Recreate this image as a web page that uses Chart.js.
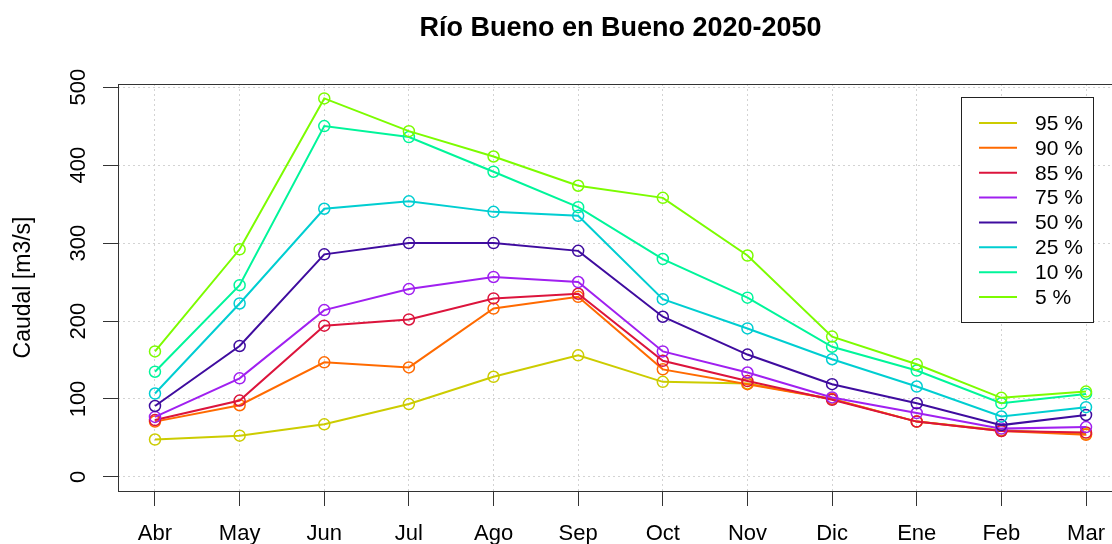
<!DOCTYPE html>
<html>
<head>
<meta charset="utf-8">
<script src="https://cdn.jsdelivr.net/npm/chart.js@4.4.1/dist/chart.umd.min.js"></script>
<style>
  html, body { margin: 0; padding: 0; background: #fff; overflow: hidden; }
  #wrap { width: 1130px; height: 544px; }
</style>
</head>
<body>
<div id="wrap"><canvas id="c" width="1130" height="544"></canvas></div>
<script>
const months = ["Abr","May","Jun","Jul","Ago","Sep","Oct","Nov","Dic","Ene","Feb","Mar"];
const seriesLabels = ["95 %","90 %","85 %","75 %","50 %","25 %","10 %","5 %"];
const seriesColors = ["#CCCC00","#FF6A00","#DC143C","#A020F0","#3F0C9F","#00CED1","#00F59A","#7CFC00"];
const yTicks = [0,100,200,300,400,500];

const q95 = [48, 53, 67.5, 93.5, 128.5, 156, 122, 120, 100, 71, 60, 55];
const q90 = [71, 92, 147, 140.5, 216, 231, 138, 119, 100, 71, 59, 54];
const q85 = [73, 98, 194, 202, 229, 235, 149, 123, 99, 71, 59, 57];
const q75 = [77, 126.5, 214, 241, 256.5, 250, 161, 134, 102, 82, 62, 64];
const q50 = [91, 168, 285.5, 300, 300, 290, 205.5, 157, 119, 94.5, 66.5, 79.5];
const q25 = [107, 222.5, 344, 353.5, 340, 335, 228, 190.5, 151, 116, 77.5, 89.5];
const q10 = [135, 246, 450, 436, 391.5, 346, 279.5, 230, 167, 136.5, 94.5, 106.5];
const q5  = [161, 292, 485.5, 443.5, 411, 373.5, 358, 284, 180, 144.5, 101.5, 109.5];

const seriesValues = [q95, q90, q85, q75, q50, q25, q10, q5];

const datasets = seriesValues.map((vals, i) => ({
  label: seriesLabels[i],
  data: vals.map((v, k) => ({ x: k + 1, y: v })),
  borderColor: seriesColors[i],
  backgroundColor: seriesColors[i],
  pointBorderColor: seriesColors[i],
  pointBackgroundColor: 'rgba(0,0,0,0)',
  pointRadius: 5.5,
  pointBorderWidth: 1.5,
  pointHoverRadius: 5.5,
  borderWidth: 2,
  tension: 0,
  fill: false,
  order: seriesValues.length - i
}));

const boxPlugin = {
  id: 'boxPlugin',
  afterDraw(chart) {
    const ctx = chart.ctx;
    const a = chart.chartArea;
    ctx.save();
    ctx.strokeStyle = '#333';
    ctx.lineWidth = 1;
    ctx.strokeRect(Math.round(a.left) + 0.5, Math.round(a.top) + 0.5,
                   Math.round(a.right - a.left), Math.round(a.bottom - a.top));
    // legend
    const lx = 961, ly = 97, lw = 132, lh = 225;
    ctx.fillStyle = '#fff';
    ctx.fillRect(lx, ly, lw, lh);
    ctx.strokeStyle = '#222';
    ctx.strokeRect(lx + 0.5, ly + 0.5, lw, lh);
    ctx.font = '21px "Liberation Sans", Arial, sans-serif';
    ctx.textBaseline = 'middle';
    ctx.textAlign = 'left';
    chart.data.datasets.forEach((ds, i) => {
      const y = 123 + i * 24.86;
      ctx.strokeStyle = ds.borderColor;
      ctx.lineWidth = 2;
      ctx.beginPath();
      ctx.moveTo(979, y);
      ctx.lineTo(1017, y);
      ctx.stroke();
      ctx.fillStyle = '#000';
      ctx.fillText(ds.label, 1035, y + 1);
    });
    ctx.restore();
  }
};

Chart.defaults.font.family = '"Liberation Sans", Arial, sans-serif';
Chart.defaults.color = '#000';

const gridOpts = {
  color: '#D3D3D3',
  lineWidth: 1,
  tickLength: 15,
  tickColor: '#333',
  tickBorderDash: [],
  tickWidth: 1
};
const borderOpts = { display: false, dash: [2, 3] };

new Chart(document.getElementById('c'), {
  type: 'line',
  data: { datasets },
  options: {
    responsive: false,
    animation: false,
    events: [],
    layout: { padding: { left: 0, right: 5.5, top: 0, bottom: 0 } },
    plugins: {
      legend: { display: false },
      tooltip: { enabled: false },
      title: {
        display: true,
        text: 'Río Bueno en Bueno 2020-2050',
        fullSize: false,
        color: '#000',
        font: { size: 27, weight: 'bold' },
        padding: { top: 12, bottom: 39.6 }
      }
    },
    scales: {
      x: {
        type: 'linear',
        min: 0.563,
        max: 12.437,
        afterBuildTicks(scale) { scale.ticks = months.map((m, k) => ({ value: k + 1 })); },
        afterFit(scale) { scale.height = 53; },
        ticks: {
          autoSkip: false,
          maxRotation: 0,
          minRotation: 0,
          padding: 15,
          font: { size: 22 },
          color: '#000',
          callback: (v) => months[Math.round(v) - 1]
        },
        grid: gridOpts,
        border: borderOpts
      },
      y: {
        type: 'linear',
        min: -18,
        max: 504,
        afterBuildTicks(scale) { scale.ticks = yTicks.map(v => ({ value: v })); },
        afterFit(scale) { scale.width = 118; },
        ticks: {
          minRotation: 90,
          maxRotation: 90,
          crossAlign: 'center',
          padding: 6,
          font: { size: 22 },
          color: '#000'
        },
        title: {
          display: true,
          text: 'Caudal [m3/s]',
          color: '#000',
          font: { size: 23 },
          padding: { top: 10, bottom: 0 }
        },
        grid: gridOpts,
        border: borderOpts
      }
    }
  },
  plugins: [boxPlugin]
});
</script>
</body>
</html>
